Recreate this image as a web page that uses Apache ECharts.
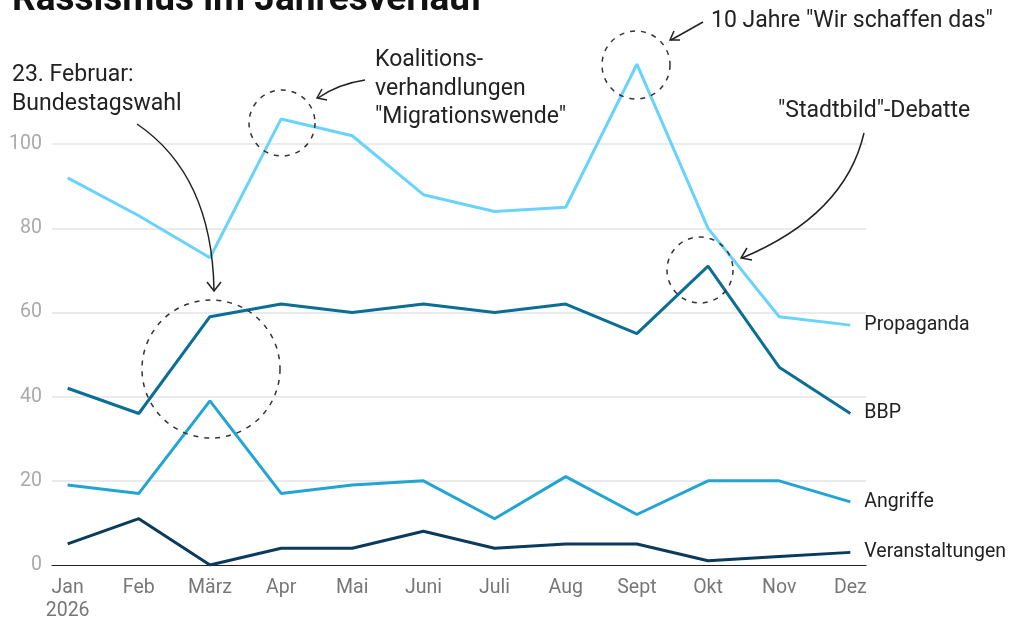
<!DOCTYPE html>
<html>
<head>
<meta charset="utf-8">
<script src="https://cdn.jsdelivr.net/npm/echarts@6/dist/echarts.min.js"></script>
<style>
  html, body { margin: 0; padding: 0; background: #fff; }
  #chart { width: 1013px; height: 621px; }
</style>
</head>
<body>
<div id="chart"></div>
<script>
// Monate
const months = ['Jan', 'Feb', 'März', 'Apr', 'Mai', 'Juni', 'Juli', 'Aug', 'Sept', 'Okt', 'Nov', 'Dez'];

// Werte pro Monat
const propaganda = [92, 83, 73, 106, 102, 88, 84, 85, 119, 80, 59, 57];
const bbp = [42, 36, 59, 62, 60, 62, 60, 62, 55, 71, 47, 36];
const angriffe = [19, 17, 39, 17, 19, 20, 11, 21, 12, 20, 20, 15];
const veranstaltungen = [5, 11, 0, 4, 4, 8, 4, 5, 5, 1, 2, 3];

const yTicks = [0, 20, 40, 60, 80, 100];

const FONT = 'Roboto';
const FS = 19.5;

function pairs(arr) {
    return arr.map((v, i) => [i, v]);
}

function makeSeries(name, data, color) {
    return {
        name: name,
        type: 'line',
        data: pairs(data),
        symbol: 'none',
        lineStyle: { color: color, width: 3 },
        itemStyle: { color: color },
        endLabel: {
            show: true,
            formatter: '{a}',
            distance: 14,
            color: '#222',
            fontSize: FS,
            fontFamily: FONT
        },
        animation: false
    }
}

const chart = echarts.init(document.getElementById('chart'));

// Annotationen (Kreise + Pfeile)
const dash = { stroke: '#333', lineWidth: 1.5, lineDash: [5, 6], fill: 'none' };
const arrow = { stroke: '#222', lineWidth: 1.5, fill: 'none' };
const annText = { fill: '#222', fontSize: 23, fontFamily: FONT, lineHeight: 28.5 };

chart.setOption({
    backgroundColor: '#fff',
    title: {
        text: 'Rassismus im Jahresverlauf',
        left: 7,
        top: -23,
        textStyle: { fontSize: 37, fontWeight: 'bold', fontFamily: FONT, color: '#111' }
    },
    grid: { left: 52, right: 147, top: 60, bottom: 56, outerBoundsMode: 'none', containLabel: false },
    xAxis: {
        type: 'value',
        min: -0.22,
        max: 11.22,
        axisLine: { show: true, onZero: false, lineStyle: { color: '#222', width: 1.2 } },
        axisTick: { show: false },
        splitLine: { show: false },
        axisLabel: {
            customValues: months.map((m, i) => i),
            formatter: (v) => v === 0 ? months[0] + '\n2026' : months[Math.round(v)],
            color: '#777',
            fontSize: FS,
            fontFamily: FONT,
            margin: 12,
            lineHeight: 23
        }
    },
    yAxis: {
        type: 'value',
        min: 0,
        max: 120,
        interval: 20,
        axisLine: { show: false },
        axisTick: { show: false },
        axisLabel: {
            color: '#aaa',
            fontSize: FS,
            fontFamily: FONT,
            margin: 10,
            showMaxLabel: false
        },
        splitLine: {
            show: true,
            showMinLine: false,
            showMaxLine: false,
            lineStyle: { color: '#e4e4e4', width: 1.5 }
        }
    },
    series: [
        makeSeries('Propaganda', propaganda, '#6ad3fc'),
        makeSeries('BBP', bbp, '#0b6e94'),
        makeSeries('Angriffe', angriffe, '#22a5d3'),
        makeSeries('Veranstaltungen', veranstaltungen, '#0a3b5c')
    ],
    graphic: [
        // gestrichelte Kreise
        { type: 'circle', shape: { cx: 211, cy: 369, r: 69 }, style: dash, z: 10 },
        { type: 'circle', shape: { cx: 282, cy: 123, r: 33 }, style: dash, z: 10 },
        { type: 'circle', shape: { cx: 636, cy: 65, r: 34 }, style: dash, z: 10 },
        { type: 'circle', shape: { cx: 700, cy: 270, r: 33 }, style: dash, z: 10 },
        // Pfeile
        { type: 'bezierCurve', shape: { x1: 137, y1: 124, x2: 214, y2: 290, cpx1: 212, cpy1: 175 }, style: arrow, z: 10 },
        { type: 'polyline', shape: { points: [[207, 282], [214, 291], [221, 282]] }, style: arrow, z: 10 },
        { type: 'bezierCurve', shape: { x1: 365, y1: 80, x2: 318, y2: 98, cpx1: 338, cpy1: 84 }, style: arrow, z: 10 },
        { type: 'polyline', shape: { points: [[322, 89], [317, 98], [327, 100]] }, style: arrow, z: 10 },
        { type: 'line', shape: { x1: 703, y1: 22, x2: 671, y2: 40 }, style: arrow, z: 10 },
        { type: 'polyline', shape: { points: [[674, 31], [670, 40], [680, 40]] }, style: arrow, z: 10 },
        { type: 'bezierCurve', shape: { x1: 864, y1: 133, x2: 742, y2: 258, cpx1: 845, cpy1: 215 }, style: arrow, z: 10 },
        { type: 'polyline', shape: { points: [[747, 248], [741, 258], [752, 260]] }, style: arrow, z: 10 },
        // Texte
        { type: 'text', left: 12, top: 61, z: 20, style: Object.assign({ text: '23. Februar:\nBundestagswahl' }, annText) },
        { type: 'text', left: 375, top: 46, z: 20, style: Object.assign({ text: 'Koalitions-\nverhandlungen\n"Migrationswende"' }, annText) },
        { type: 'text', left: 711, top: 7, z: 20, style: Object.assign({ text: '10 Jahre "Wir schaffen das"' }, annText) },
        { type: 'text', left: 778, top: 97, z: 20, style: Object.assign({ text: '"Stadtbild"-Debatte' }, annText) }
    ]
});
</script>
</body>
</html>
